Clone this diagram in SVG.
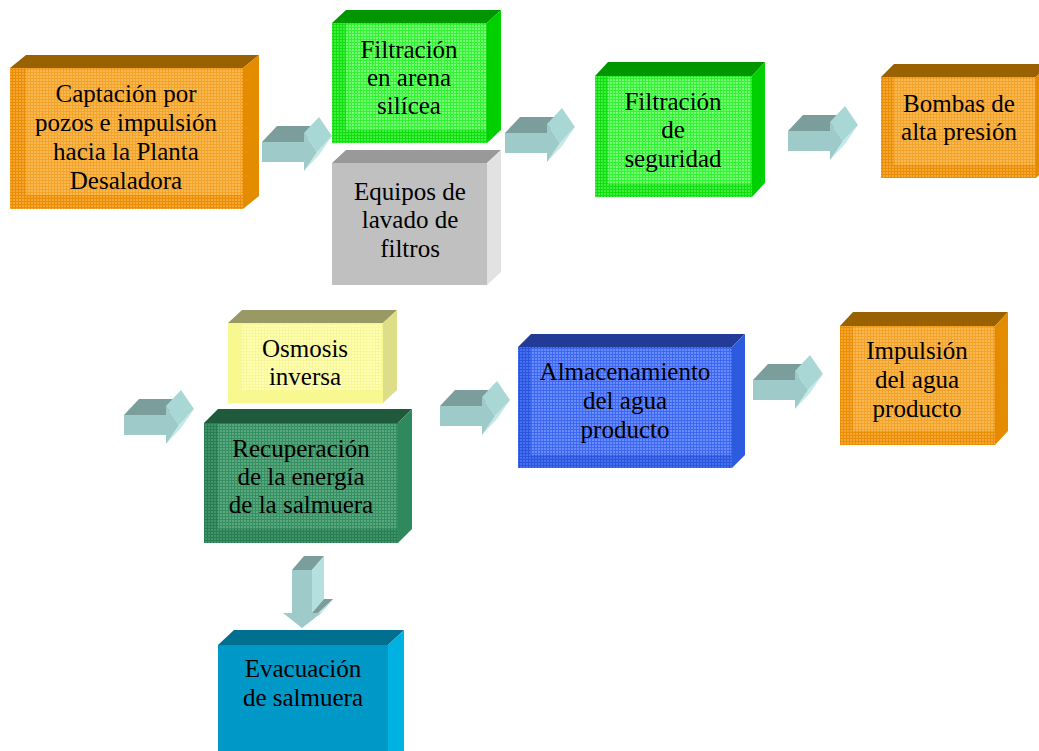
<svg xmlns="http://www.w3.org/2000/svg" xmlns:xlink="http://www.w3.org/1999/xlink" width="1039" height="751" viewBox="0 0 1039 751">
<style>
text{font-family:"Liberation Serif","Times New Roman",serif;font-size:25px;fill:#000;text-anchor:middle}
.a-front{fill:#9ecaca}
.a-top{fill:#7b9d9b}
.a-head{fill:#a9d7d6}
.a-side{fill:#b4e0e0}
.a-sliver{fill:#c4e9e9}
</style>
<defs>
<pattern id="pOr" width="3" height="3" patternUnits="userSpaceOnUse"><rect width="3" height="3" fill="#fab852"/><path d="M0 .5H3M.5 0V3" stroke="#f3a22a" stroke-width="1"/></pattern>
<pattern id="pOrB" width="3" height="3" patternUnits="userSpaceOnUse"><rect width="3" height="3" fill="#f5a534"/><path d="M0 .5H3M.5 0V3" stroke="#ea8e06" stroke-width="1"/></pattern>
<pattern id="pGr" width="3" height="3" patternUnits="userSpaceOnUse"><rect width="3" height="3" fill="#7aff7a"/><path d="M0 .5H3M.5 0V3" stroke="#30f530" stroke-width="1"/></pattern>
<pattern id="pGrB" width="3" height="3" patternUnits="userSpaceOnUse"><rect width="3" height="3" fill="#3cf03c"/><path d="M0 .5H3M.5 0V3" stroke="#14dc14" stroke-width="1"/></pattern>
<pattern id="pYe" width="3" height="3" patternUnits="userSpaceOnUse"><rect width="3" height="3" fill="#ffffb4"/><path d="M0 .5H3M.5 0V3" stroke="#f8f89a" stroke-width="1"/></pattern>
<pattern id="pDg" width="3" height="3" patternUnits="userSpaceOnUse"><rect width="3" height="3" fill="#5aa87e"/><path d="M0 .5H3M.5 0V3" stroke="#358f62" stroke-width="1"/></pattern>
<pattern id="pDgB" width="3" height="3" patternUnits="userSpaceOnUse"><rect width="3" height="3" fill="#3d9468"/><path d="M0 .5H3M.5 0V3" stroke="#2a7c52" stroke-width="1"/></pattern>
<pattern id="pBl" width="3" height="3" patternUnits="userSpaceOnUse"><rect width="3" height="3" fill="#6a8cff"/><path d="M0 .5H3M.5 0V3" stroke="#3d68f2" stroke-width="1"/></pattern>
<pattern id="pBlB" width="3" height="3" patternUnits="userSpaceOnUse"><rect width="3" height="3" fill="#4570f0"/><path d="M0 .5H3M.5 0V3" stroke="#2a55dc" stroke-width="1"/></pattern>
<g id="arrowR">
<path class="a-top" d="M0 0L15 -16H57L42 0Z"/>
<path class="a-sliver" d="M55 10L70 -6L57 13L42 29Z"/>
<path class="a-head" d="M42 -9L57 -25L70 -6L55 10Z"/>
<path class="a-front" d="M0 0H42V-9L55 10L42 29V20H0Z"/>
</g>
<g id="arrowD">
<path class="a-top" d="M0 0L12 -14H32L20 0Z"/>
<path class="a-side" d="M20 0L32 -14V29L20 43Z"/>
<path class="a-top" d="M20 43L32 29H41L29 43Z"/>
<path class="a-sliver" d="M29 43L41 29L10 58Z"/>
<path class="a-front" d="M0 0H20V43H29L10 58L-9 43H0Z"/>
</g>
</defs>
<rect width="1039" height="751" fill="#fff"/>

<g id="connectors">
<use xlink:href="#arrowR" transform="translate(262,142)"/>
<use xlink:href="#arrowR" transform="translate(505,133)"/>
<use xlink:href="#arrowR" transform="translate(788,131)"/>
<use xlink:href="#arrowR" transform="translate(124,415)"/>
<use xlink:href="#arrowR" transform="translate(440,406)"/>
<use xlink:href="#arrowR" transform="translate(753,380)"/>
<use xlink:href="#arrowD" transform="translate(292,570)"/>
</g>

<g id="captacion">
<path d="M10 68L26 55H259L243 68Z" fill="#996100"/>
<path d="M243 68L259 55V196L243 209Z" fill="#e38c00"/>
<rect x="10" y="68" width="233" height="141" fill="url(#pOrB)"/>
<rect x="26" y="69" width="216" height="126" fill="url(#pOr)"/>
<text><tspan x="126" y="102">Captación por</tspan><tspan x="126" y="131">pozos e impulsión</tspan><tspan x="126" y="160">hacia la Planta</tspan><tspan x="126" y="189">Desaladora</tspan></text>
</g>

<g id="filtracion-arena">
<path d="M332 23L346 10H501L487 23Z" fill="#009600"/>
<path d="M487 23L501 10V130L487 143Z" fill="#00d000"/>
<rect x="332" y="23" width="155" height="120" fill="url(#pGrB)"/>
<rect x="346" y="24" width="140" height="106" fill="url(#pGr)"/>
<text><tspan x="409" y="58">Filtración</tspan><tspan x="409" y="86">en arena</tspan><tspan x="409" y="114">silícea</tspan></text>
</g>

<g id="equipos-lavado">
<path d="M332 163L346 150H501L487 163Z" fill="#999999"/>
<path d="M487 163L501 150V272L487 285Z" fill="#e2e2e2"/>
<rect x="332" y="163" width="155" height="122" fill="#c0c0c0"/>
<text><tspan x="410" y="200">Equipos de</tspan><tspan x="410" y="228">lavado de</tspan><tspan x="410" y="257">filtros</tspan></text>
</g>

<g id="filtracion-seguridad">
<path d="M595 76L608 62H765L752 76Z" fill="#009600"/>
<path d="M752 76L765 62V183L752 197Z" fill="#00d000"/>
<rect x="595" y="76" width="157" height="121" fill="url(#pGrB)"/>
<rect x="608" y="77" width="143" height="107" fill="url(#pGr)"/>
<text><tspan x="673" y="110">Filtración</tspan><tspan x="673" y="138">de</tspan><tspan x="673" y="167">seguridad</tspan></text>
</g>

<g id="bombas">
<path d="M881 77L894 64H1049L1036 77Z" fill="#996100"/>
<path d="M1036 77L1049 64V165L1036 178Z" fill="#e38c00"/>
<rect x="881" y="77" width="155" height="101" fill="url(#pOrB)"/>
<rect x="894" y="78" width="141" height="87" fill="url(#pOr)"/>
<text><tspan x="959" y="112">Bombas de</tspan><tspan x="959" y="140">alta presión</tspan></text>
</g>

<g id="osmosis">
<path d="M228 323L242 310H397L383 323Z" fill="#999966"/>
<path d="M383 323L397 310V390L383 403Z" fill="#dede88"/>
<rect x="228" y="323" width="155" height="80" fill="#f8f890"/>
<rect x="242" y="324" width="140" height="66" fill="url(#pYe)"/>
<text><tspan x="305" y="357">Osmosis</tspan><tspan x="305" y="385">inversa</tspan></text>
</g>

<g id="recuperacion">
<path d="M204 423L218 409H412L398 423Z" fill="#1f5a3c"/>
<path d="M398 423L412 409V529L398 543Z" fill="#2e8a5c"/>
<rect x="204" y="423" width="194" height="120" fill="url(#pDgB)"/>
<rect x="218" y="424" width="179" height="105" fill="url(#pDg)"/>
<text><tspan x="301" y="457">Recuperación</tspan><tspan x="301" y="485">de la energía</tspan><tspan x="301" y="513">de la salmuera</tspan></text>
</g>

<g id="evacuacion">
<path d="M218 645L234 630H404L388 645Z" fill="#006f90"/>
<path d="M388 645L404 630V751H388Z" fill="#00b2e2"/>
<rect x="218" y="645" width="170" height="106" fill="#0098c6"/>
<text><tspan x="303" y="677">Evacuación</tspan><tspan x="303" y="706">de salmuera</tspan></text>
</g>

<g id="almacenamiento">
<path d="M518 347L531 334H745L732 347Z" fill="#223b96"/>
<path d="M732 347L745 334V455L732 468Z" fill="#2d5be0"/>
<rect x="518" y="347" width="214" height="121" fill="url(#pBlB)"/>
<rect x="531" y="348" width="200" height="107" fill="url(#pBl)"/>
<text><tspan x="625" y="380">Almacenamiento</tspan><tspan x="625" y="409">del agua</tspan><tspan x="625" y="438">producto</tspan></text>
</g>

<g id="impulsion">
<path d="M840 326L853 312H1008L995 326Z" fill="#996100"/>
<path d="M995 326L1008 312V431L995 445Z" fill="#e38c00"/>
<rect x="840" y="326" width="155" height="119" fill="url(#pOrB)"/>
<rect x="853" y="327" width="141" height="104" fill="url(#pOr)"/>
<text><tspan x="917" y="359">Impulsión</tspan><tspan x="917" y="388">del agua</tspan><tspan x="917" y="417">producto</tspan></text>
</g>
</svg>
